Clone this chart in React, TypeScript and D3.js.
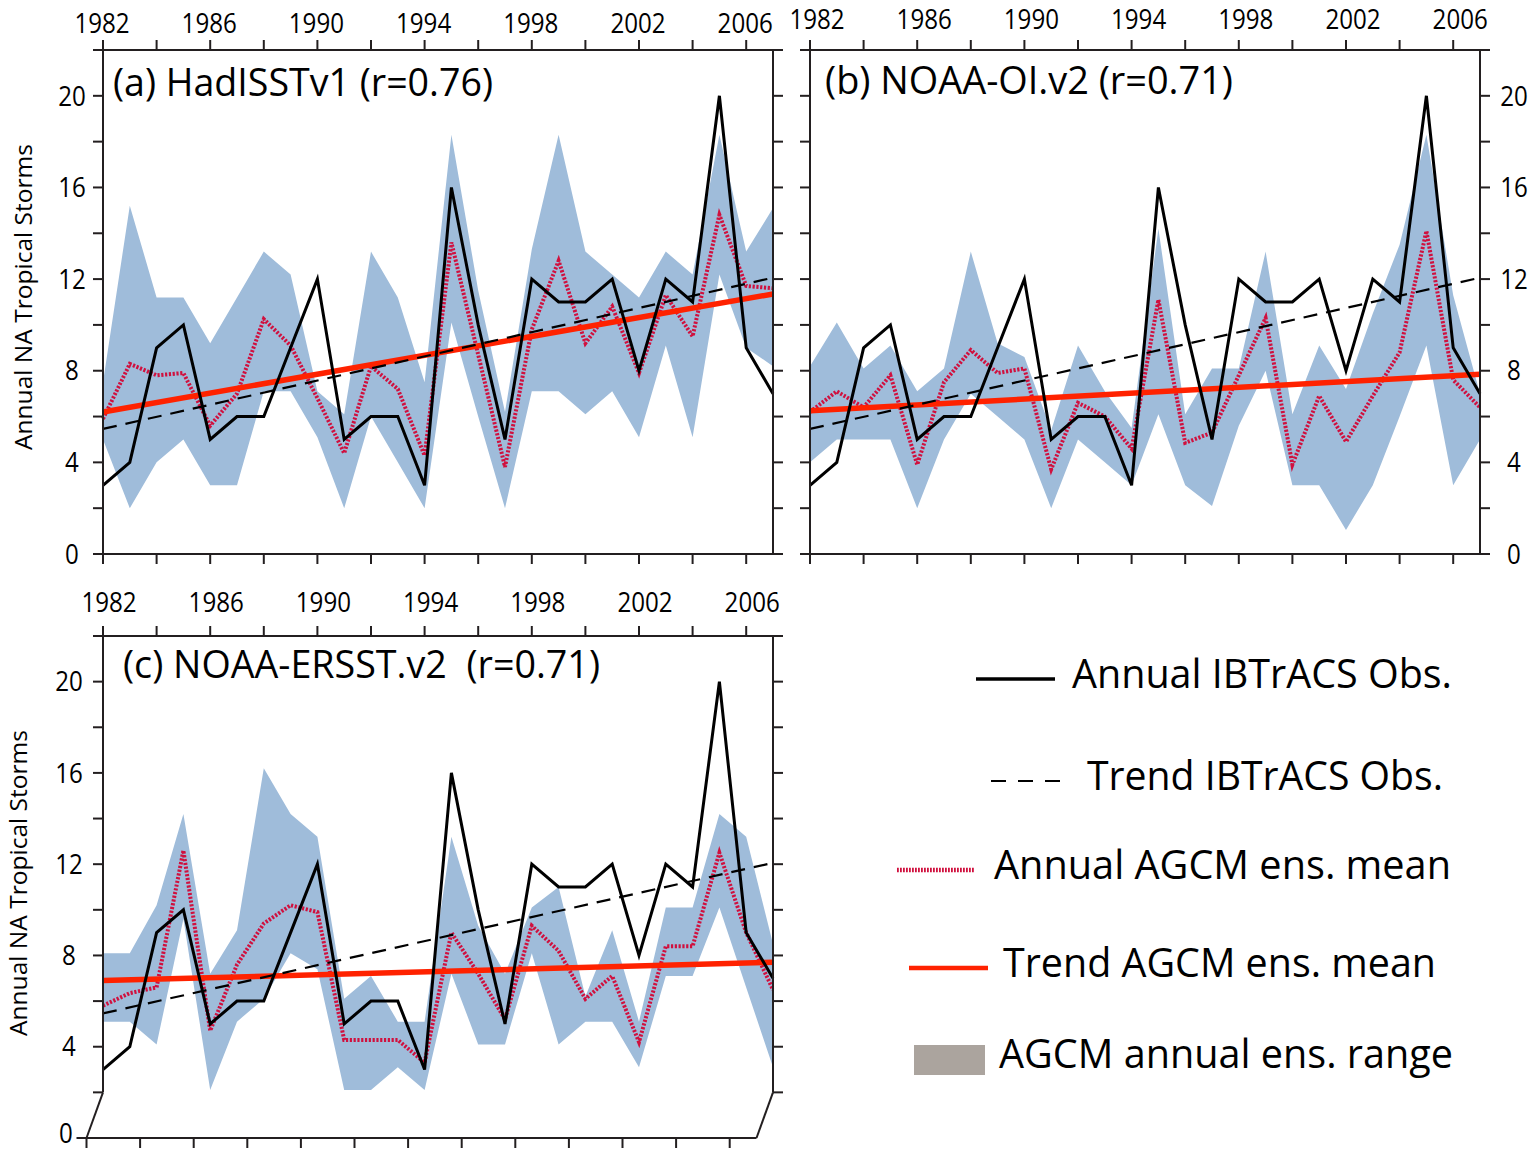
import React from 'react';
import * as d3 from 'd3';

// Seasons covered by the ensemble runs
const years = [
  1982, 1983, 1984, 1985, 1986, 1987, 1988, 1989, 1990, 1991, 1992, 1993, 1994,
  1995, 1996, 1997, 1998, 1999, 2000, 2001, 2002, 2003, 2004, 2005, 2006, 2007,
];

// Observed North Atlantic tropical storm counts (IBTrACS)
const obsStorms = [3, 4, 9, 10, 5, 6, 6, 9, 12, 5, 6, 6, 3, 16, 10, 5, 12, 11, 11, 12, 8, 12, 11, 20, 9, 7];
// Linear trend of the observations at 1982 and 2007
const obsTrend = [5.46, 12.06];

// (a) AGCM forced by HadISST v1
const hadMean = [5.9, 8.3, 7.8, 7.9, 5.6, 7.0, 10.25, 9.1, 6.8, 4.4, 8.2, 7.2, 4.3, 13.6, 8.7, 3.8, 9.8, 12.8, 9.2, 10.8, 7.9, 11.3, 9.5, 14.8, 11.7, 11.6];
const hadMin = [5.0, 2.0, 4.0, 5.0, 3.0, 3.0, 7.1, 7.1, 5.1, 2.0, 6.0, 4.0, 2.0, 10.1, 6.0, 2.0, 7.1, 7.1, 6.1, 7.1, 5.1, 9.1, 5.1, 12.2, 9.0, 8.2];
const hadMax = [7.5, 15.2, 11.2, 11.2, 9.2, 11.2, 13.2, 12.2, 7.1, 6.1, 13.2, 11.2, 7.5, 18.3, 11.5, 6.2, 13.3, 18.3, 13.2, 12.2, 11.2, 13.2, 12.2, 18.3, 13.2, 15.1];
const hadTrend = [6.2, 11.35];

// (b) AGCM forced by NOAA OI v2
const oiMean = [6.2, 7.1, 6.4, 7.8, 3.9, 7.5, 8.9, 7.9, 8.1, 3.7, 6.6, 6.0, 4.6, 11.1, 4.85, 5.3, 7.8, 10.3, 3.9, 6.9, 4.9, 6.9, 8.8, 14.1, 7.6, 6.4];
const oiMin = [4.0, 5.0, 5.0, 5.0, 2.0, 5.0, 7.0, 6.0, 5.0, 2.0, 5.0, 4.0, 3.0, 6.1, 3.0, 2.1, 5.6, 8.0, 3.0, 3.0, 1.05, 3.0, 6.0, 9.1, 3.0, 5.0];
const oiMax = [8.2, 10.1, 8.1, 9.1, 7.1, 8.1, 13.2, 9.2, 8.6, 5.4, 9.1, 7.1, 5.5, 14.2, 6.1, 8.1, 8.1, 13.2, 6.1, 9.1, 7.2, 10.5, 13.5, 18.3, 11.3, 7.0];
const oiTrend = [6.25, 7.85];

// (c) AGCM forced by NOAA ERSST v2
const ersstMean = [5.8, 6.35, 6.6, 12.6, 4.7, 7.6, 9.4, 10.2, 9.9, 4.3, 4.3, 4.3, 3.3, 9.0, 7.2, 5.2, 9.3, 8.2, 6.1, 7.1, 4.2, 8.4, 8.4, 12.5, 9.0, 6.5];
const ersstMin = [5.1, 5.1, 4.1, 9.6, 2.1, 5.1, 6.1, 8.1, 7.4, 2.1, 2.1, 3.1, 2.1, 7.2, 4.1, 4.1, 8.1, 4.1, 5.1, 5.1, 3.1, 7.1, 7.1, 10.1, 6.6, 3.1];
const ersstMax = [8.1, 8.1, 10.2, 14.2, 7.2, 9.1, 16.2, 14.2, 13.2, 6.1, 7.1, 5.1, 5.1, 13.2, 9.3, 7.2, 10.1, 11.0, 6.2, 9.1, 5.1, 10.1, 10.1, 14.2, 13.2, 8.5];
const ersstTrend = [6.9, 7.7];

// Axis ticks
const tickYears = [1982, 1984, 1986, 1988, 1990, 1992, 1994, 1996, 1998, 2000, 2002, 2004, 2006];
const labelYears = [1982, 1986, 1990, 1994, 1998, 2002, 2006];
const stormTicks = [0, 2, 4, 6, 8, 10, 12, 14, 16, 18, 20];
const stormLabels = [0, 4, 8, 12, 16, 20];

const FONT = "'Open Sans', 'Noto Sans', 'DejaVu Sans', sans-serif";
const AXIS = '#231f20';
const BAND = '#9fbcda';
const MEAN_RED = '#d0103e';
const TREND_RED = '#ff2200';
const RANGE_KEY = '#aba49e';

// narrow, tall digits for the tick labels
const DIGIT_W = 13.8;
const TICK_FONT = 27;

type PanelProps = {
  left: number;
  right: number;
  top: number;
  bottom: number;
  mean: number[];
  lo: number[];
  hi: number[];
  trend: number[];
  title: string;
  titleX: number;
  titleY: number;
  titleWidth: number;
  yearLabelShift: number;
  yearLabelBaseline: number;
  valueLabelX: number;
  brokenBase?: boolean;
};

function Panel(p: PanelProps) {
  const x = d3.scaleLinear().domain([1982, 2007]).range([p.left, p.right]);
  const y = d3.scaleLinear().domain([0, 22]).range([p.bottom, p.top]);
  const idx = years.map((_, i) => i);

  const band = d3
    .area<number>()
    .x((i) => x(years[i]))
    .y0((i) => y(p.lo[i]))
    .y1((i) => y(p.hi[i]))(idx) as string;
  const series = d3
    .line<number>()
    .x((i) => x(years[i]))
    .y((i) => y(p.mean[i]))(idx) as string;
  const obs = d3
    .line<number>()
    .x((i) => x(years[i]))
    .y((i) => y(obsStorms[i]))(idx) as string;
  const seg = d3
    .line<[number, number]>()
    .x((d) => x(d[0]))
    .y((d) => y(d[1]));
  const first = years[0];
  const last = years[years.length - 1];
  const modelTrend = seg([
    [first, p.trend[0]],
    [last, p.trend[1]],
  ]) as string;
  const observedTrend = seg([
    [first, obsTrend[0]],
    [last, obsTrend[1]],
  ]) as string;

  // the lower frame of panel (c) is drawn set back from the plot
  const shift = 16.5;
  const baseY = y(0);
  const axisBottom = p.brokenBase ? y(2) : baseY;
  const leftTicks = p.brokenBase ? stormTicks.filter((v) => v > 0) : stormTicks;

  return (
    <g>
      <path d={band} fill={BAND} stroke="none" />
      <path
        d={series}
        fill="none"
        stroke={MEAN_RED}
        strokeWidth={4}
        strokeDasharray="2.2 1.6"
        strokeLinejoin="miter"
      />
      <path d={modelTrend} fill="none" stroke={TREND_RED} strokeWidth={5.5} />
      <path d={observedTrend} fill="none" stroke="#000" strokeWidth={2.2} strokeDasharray="14 9" />
      <path d={obs} fill="none" stroke="#000" strokeWidth={3} strokeLinejoin="miter" />

      {/* frame */}
      <g stroke={AXIS} strokeWidth={2} fill="none">
        <line x1={p.left - 10} x2={p.right + 10} y1={p.top} y2={p.top} />
        <line x1={p.left} x2={p.left} y1={p.top} y2={axisBottom} />
        <line x1={p.right} x2={p.right} y1={p.top} y2={axisBottom} />
        {!p.brokenBase && <line x1={p.left} x2={p.right} y1={baseY} y2={baseY} />}
        {p.brokenBase && (
          <>
            <line x1={p.left} y1={axisBottom} x2={p.left - shift} y2={baseY} />
            <line x1={p.right} y1={axisBottom} x2={p.right - shift} y2={baseY} />
            <line x1={p.left - shift - 10} x2={p.right - shift} y1={baseY} y2={baseY} />
          </>
        )}
        {tickYears.map((yr) => (
          <line key={'t' + yr} x1={x(yr)} x2={x(yr)} y1={p.top} y2={p.top - 10} />
        ))}
        {tickYears.map((yr) => {
          const bx = p.brokenBase ? x(yr) - shift : x(yr);
          return <line key={'b' + yr} x1={bx} x2={bx} y1={baseY} y2={baseY + 10} />;
        })}
        {leftTicks.map((v) => (
          <line key={'l' + v} x1={p.left - 10} x2={p.left} y1={y(v)} y2={y(v)} />
        ))}
        {leftTicks.map((v) => (
          <line key={'r' + v} x1={p.right} x2={p.right + 10} y1={y(v)} y2={y(v)} />
        ))}
      </g>

      {/* year labels */}
      <g fontFamily={FONT} fontSize={TICK_FONT} fill="#000" textAnchor="middle">
        {labelYears.map((yr) => (
          <text
            key={'yl' + yr}
            x={x(yr) + p.yearLabelShift}
            y={p.yearLabelBaseline}
            textLength={DIGIT_W * 4}
            lengthAdjust="spacingAndGlyphs"
          >
            {yr}
          </text>
        ))}
      </g>

      {/* storm count labels */}
      <g fontFamily={FONT} fontSize={TICK_FONT} fill="#000" textAnchor="middle">
        {stormLabels.map((v) => {
          const zeroOnBase = p.brokenBase && v === 0;
          const lx = zeroOnBase ? p.valueLabelX - 3 : p.valueLabelX;
          const ly = zeroOnBase ? y(v) - 5 : y(v);
          return (
            <text
              key={'vl' + v}
              x={lx}
              y={ly}
              dy="0.36em"
              textLength={DIGIT_W * String(v).length}
              lengthAdjust="spacingAndGlyphs"
            >
              {v}
            </text>
          );
        })}
      </g>

      <text
        x={p.titleX}
        y={p.titleY}
        fontFamily={FONT}
        fontSize={38.5}
        fill="#000"
        textLength={p.titleWidth}
        lengthAdjust="spacingAndGlyphs"
        style={{ whiteSpace: 'pre' }}
      >
        {p.title}
      </text>
    </g>
  );
}

function YTitle({ x, cy }: { x: number; cy: number }) {
  return (
    <text
      transform={`translate(${x},${cy}) rotate(-90)`}
      textAnchor="middle"
      fontFamily={FONT}
      fontSize={24.5}
      fill="#000"
      textLength={306}
      lengthAdjust="spacingAndGlyphs"
    >
      Annual NA Tropical Storms
    </text>
  );
}

function Legend() {
  const textProps = {
    fontFamily: FONT,
    fontSize: 40,
    fill: '#000',
    lengthAdjust: 'spacingAndGlyphs' as const,
  };
  return (
    <g>
      <line x1={976} x2={1055} y1={679} y2={679} stroke="#000" strokeWidth={3.5} />
      <text x={1072} y={688} textLength={380} {...textProps}>
        Annual IBTrACS Obs.
      </text>

      <line x1={991} x2={1064} y1={781} y2={781} stroke="#000" strokeWidth={2.2} strokeDasharray="15 12" />
      <text x={1087} y={790} textLength={356} {...textProps}>
        Trend IBTrACS Obs.
      </text>

      <line x1={897} x2={974} y1={870} y2={870} stroke={MEAN_RED} strokeWidth={4.5} strokeDasharray="1.8 1.2" />
      <text x={994} y={879} textLength={457} {...textProps}>
        Annual AGCM ens. mean
      </text>

      <line x1={909} x2={988} y1={968} y2={968} stroke={TREND_RED} strokeWidth={4.5} />
      <text x={1003} y={977} textLength={433} {...textProps}>
        Trend AGCM ens. mean
      </text>

      <rect x={914} y={1045} width={71} height={30} fill={RANGE_KEY} />
      <text x={999} y={1068} textLength={454} {...textProps}>
        AGCM annual ens. range
      </text>
    </g>
  );
}

export default function App() {
  return (
    <svg
      width={1540}
      height={1152}
      viewBox="0 0 1540 1152"
      style={{ position: 'absolute', left: 0, top: 0, background: '#fff' }}
    >
      <rect x={0} y={0} width={1540} height={1152} fill="#fff" />
      <Panel
        left={103}
        right={773}
        top={50}
        bottom={554}
        mean={hadMean}
        lo={hadMin}
        hi={hadMax}
        trend={hadTrend}
        title="(a) HadISSTv1 (r=0.76)"
        titleX={113}
        titleY={96}
        titleWidth={380}
        yearLabelShift={-1}
        yearLabelBaseline={33}
        valueLabelX={72}
      />
      <Panel
        left={810}
        right={1480}
        top={50}
        bottom={554}
        mean={oiMean}
        lo={oiMin}
        hi={oiMax}
        trend={oiTrend}
        title="(b) NOAA-OI.v2 (r=0.71)"
        titleX={825}
        titleY={94}
        titleWidth={408}
        yearLabelShift={7}
        yearLabelBaseline={29}
        valueLabelX={1514}
      />
      <Panel
        left={103}
        right={773}
        top={636}
        bottom={1138}
        mean={ersstMean}
        lo={ersstMin}
        hi={ersstMax}
        trend={ersstTrend}
        title="(c) NOAA-ERSST.v2  (r=0.71)"
        titleX={123}
        titleY={678}
        titleWidth={477}
        yearLabelShift={6}
        yearLabelBaseline={612}
        valueLabelX={69}
        brokenBase
      />
      <YTitle x={32} cy={297} />
      <YTitle x={27} cy={883} />
      <Legend />
    </svg>
  );
}
